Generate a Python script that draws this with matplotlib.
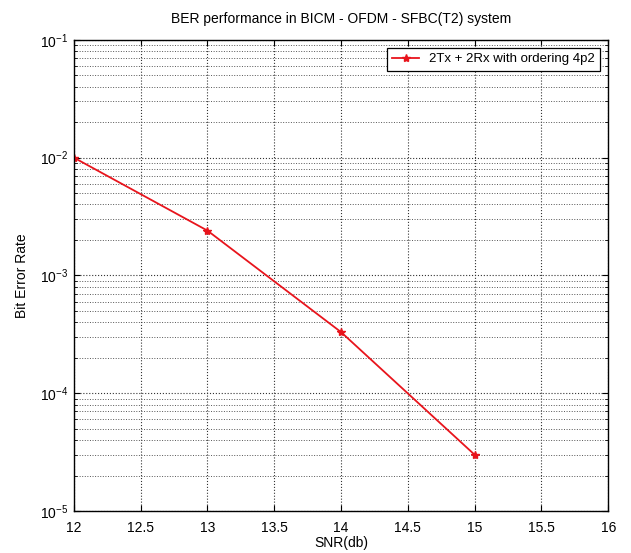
import matplotlib
matplotlib.use("Agg")
import matplotlib.pyplot as plt
from matplotlib.ticker import LogLocator, NullLocator

plt.rcParams['font.family'] = ['Liberation Sans', 'DejaVu Sans']

snr_db = [12, 13, 14, 15]
ber = [1.0e-2, 2.4e-3, 3.3e-4, 3.0e-5]
series_label = "2Tx + 2Rx with ordering 4p2"
x_ticks = [12, 12.5, 13, 13.5, 14, 14.5, 15, 15.5, 16]
x_tick_labels = ['12', '12.5', '13', '13.5', '14', '14.5', '15', '15.5', '16']

fig = plt.figure(figsize=(6.31, 5.53), dpi=100)
ax = fig.add_axes([0.117, 0.076, 0.847, 0.852])

ax.semilogy(snr_db, ber, color='#e8141c', linewidth=1.3, marker='*',
            markersize=6, label=series_label)

ax.set_xlim(12, 16)
ax.set_ylim(1e-5, 1e-1)
ax.set_xticks(x_ticks)
ax.set_xticklabels(x_tick_labels)
ax.xaxis.set_minor_locator(NullLocator())
ax.yaxis.set_major_locator(LogLocator(base=10, numticks=10))
ax.yaxis.set_minor_locator(LogLocator(base=10, subs=range(2, 10), numticks=10))

ax.grid(True, which='major', linestyle=':', color='#333333', linewidth=0.8)
ax.grid(True, which='minor', axis='y', linestyle=':', color='#555555', linewidth=0.7)

ax.tick_params(which='both', direction='in', top=True, right=True, labelsize=10)
ax.tick_params(axis='x', pad=7)
ax.tick_params(axis='y', pad=4)
ax.tick_params(which='minor', length=2)
ax.tick_params(which='major', length=4)
for s in ax.spines.values():
    s.set_linewidth(1.0)

ax.set_title("BER performance in BICM - OFDM - SFBC(T2) system", fontsize=10, pad=12)
ax.set_xlabel("SNR(db)", fontsize=10, labelpad=1)
ax.set_ylabel("Bit Error Rate", fontsize=10, labelpad=8)

leg = ax.legend(loc='upper right', fontsize=9.5, fancybox=False, framealpha=1,
                edgecolor='black', borderaxespad=0.6)
leg.get_frame().set_linewidth(0.9)

fig.savefig("out.png", dpi=100)
